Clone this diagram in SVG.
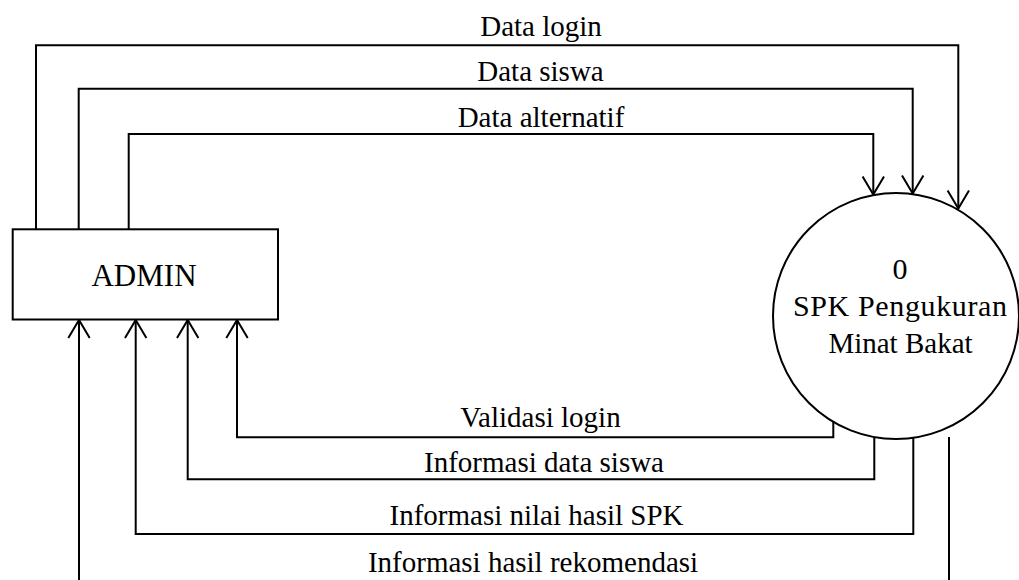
<svg xmlns="http://www.w3.org/2000/svg" width="1019" height="580" viewBox="0 0 1019 580">
<style>
  .ln { fill: none; stroke: #000; stroke-width: 2; stroke-linejoin: miter; }
  .sh { fill: #fff; stroke: #000; stroke-width: 2; }
  .t { font-family: 'Liberation Serif', 'Times New Roman', serif; font-size: 29px; fill: #000; text-anchor: middle; }
  .big { font-size: 31px; }
  .mid { font-size: 30px; }
</style>
<defs>
  <marker id="arr" markerUnits="userSpaceOnUse" markerWidth="24" markerHeight="26" viewBox="-20 -13 24 26" refX="0" refY="0" orient="auto" overflow="visible">
    <path d="M-18,-10.7 L0,0 L-18,10.7" fill="none" stroke="#000" stroke-width="2"/>
  </marker>
</defs>
<rect width="1019" height="580" fill="#fff"/>
<g id="connectors">
  <path class="ln" d="M36,229.5 V45.3 H958.3 V208.5" marker-end="url(#arr)"/>
  <path class="ln" d="M78.7,229.5 V88.7 H912.7 V193.5" marker-end="url(#arr)"/>
  <path class="ln" d="M128.7,229.5 V134 H873.3 V194.5" marker-end="url(#arr)"/>
  <path class="ln" d="M833.3,421.5 V437.3 H237 V320" marker-end="url(#arr)"/>
  <path class="ln" d="M874.3,437 V479.3 H187.7 V320" marker-end="url(#arr)"/>
  <path class="ln" d="M913.3,437.5 V534 H135.7 V320" marker-end="url(#arr)"/>
  <path class="ln" d="M949,437 V590 H79 V320" marker-end="url(#arr)"/>
  <text class="t" x="541" y="35.5">Data login</text>
  <text class="t" x="540.5" y="81">Data siswa</text>
  <text class="t" x="541" y="126.5">Data alternatif</text>
  <text class="t" x="540.5" y="426.5">Validasi login</text>
  <text class="t" x="544" y="472">Informasi data siswa</text>
  <text class="t" x="536.5" y="525">Informasi nilai hasil SPK</text>
  <text class="t" x="533" y="571.5">Informasi hasil rekomendasi</text>
</g>
<g id="admin">
  <rect class="sh" x="12.7" y="229.3" width="265.3" height="90.2"/>
  <text class="t big" x="144" y="286">ADMIN</text>
</g>
<g id="process0">
  <circle class="sh" cx="896" cy="316" r="123"/>
  <text class="t mid" x="900" y="279">0</text>
  <text class="t mid" x="900" y="316" textLength="214" lengthAdjust="spacing">SPK Pengukuran</text>
  <text class="t" x="900.5" y="353">Minat Bakat</text>
</g>
</svg>
